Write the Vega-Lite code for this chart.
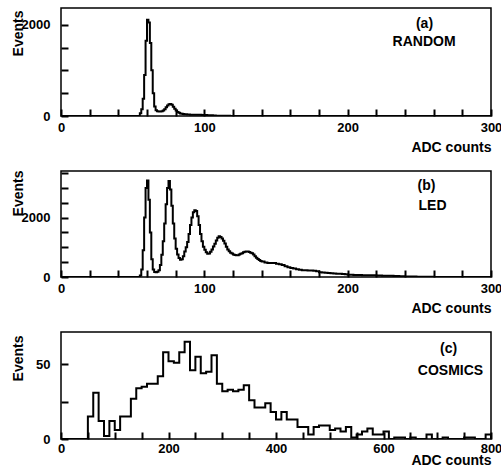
{
  "$schema": "https://vega.github.io/schema/vega-lite/v6.json",
  "padding": {"left": 10, "top": 7, "right": 0, "bottom": 0},
  "spacing": 55,
  "bounds": "flush",
  "config": {
    "view": {"stroke": "black", "strokeWidth": 1.5},
    "axis": {
      "grid": false, "domain": false, "ticks": true,
      "labelFont": "Liberation Sans", "labelFontSize": 13, "labelFontWeight": "bold", "labelColor": "black",
      "titleFont": "Liberation Sans", "titleFontSize": 14, "titleFontWeight": "bold", "titleColor": "black",
      "labelFlush": false, "labelOverlap": false, "labelBound": false
    },
    "text": {"font": "Liberation Sans", "fontSize": 14, "fontWeight": "bold", "color": "black", "baseline": "middle", "align": "center"}
  },
  "datasets": {
    "random": [
      {"x": 0, "y": 0}, {"x": 54, "y": 0}, {"x": 55, "y": 60}, {"x": 56, "y": 150}, {"x": 57, "y": 380},
      {"x": 58, "y": 900}, {"x": 59, "y": 1650}, {"x": 60, "y": 2110}, {"x": 61, "y": 2050}, {"x": 62, "y": 1600},
      {"x": 63, "y": 1000}, {"x": 64, "y": 500}, {"x": 65, "y": 210}, {"x": 66, "y": 125}, {"x": 67, "y": 105},
      {"x": 68, "y": 100}, {"x": 69, "y": 100}, {"x": 70, "y": 105}, {"x": 71, "y": 120}, {"x": 72, "y": 150},
      {"x": 73, "y": 190}, {"x": 74, "y": 230}, {"x": 75, "y": 260}, {"x": 76, "y": 265}, {"x": 77, "y": 245},
      {"x": 78, "y": 200}, {"x": 79, "y": 160}, {"x": 80, "y": 120}, {"x": 81, "y": 90}, {"x": 82, "y": 70},
      {"x": 83, "y": 55}, {"x": 84, "y": 50}, {"x": 85, "y": 45}, {"x": 86, "y": 40}, {"x": 88, "y": 35},
      {"x": 90, "y": 30}, {"x": 92, "y": 30}, {"x": 94, "y": 25}, {"x": 96, "y": 25}, {"x": 98, "y": 20},
      {"x": 100, "y": 20}, {"x": 102, "y": 15}, {"x": 104, "y": 15}, {"x": 106, "y": 10}, {"x": 108, "y": 8},
      {"x": 110, "y": 5}, {"x": 114, "y": 3}, {"x": 118, "y": 0}, {"x": 300, "y": 0}
    ],
    "led": [
      {"x": 0, "y": 0}, {"x": 54, "y": 0}, {"x": 55, "y": 50}, {"x": 56, "y": 250}, {"x": 57, "y": 900},
      {"x": 58, "y": 2000}, {"x": 59, "y": 3000}, {"x": 60, "y": 3250}, {"x": 61, "y": 2600}, {"x": 62, "y": 1500},
      {"x": 63, "y": 600}, {"x": 64, "y": 250}, {"x": 65, "y": 170}, {"x": 66, "y": 160}, {"x": 67, "y": 175},
      {"x": 68, "y": 230}, {"x": 69, "y": 400}, {"x": 70, "y": 750}, {"x": 71, "y": 1200}, {"x": 72, "y": 1800},
      {"x": 73, "y": 2450}, {"x": 74, "y": 3000}, {"x": 75, "y": 3230}, {"x": 76, "y": 2950}, {"x": 77, "y": 2400},
      {"x": 78, "y": 1800}, {"x": 79, "y": 1300}, {"x": 80, "y": 950}, {"x": 81, "y": 760}, {"x": 82, "y": 640},
      {"x": 83, "y": 580}, {"x": 84, "y": 600}, {"x": 85, "y": 700}, {"x": 86, "y": 860}, {"x": 87, "y": 1000},
      {"x": 88, "y": 1180}, {"x": 89, "y": 1450}, {"x": 90, "y": 1750}, {"x": 91, "y": 2000}, {"x": 92, "y": 2180},
      {"x": 93, "y": 2250}, {"x": 94, "y": 2220}, {"x": 95, "y": 2050}, {"x": 96, "y": 1750}, {"x": 97, "y": 1450},
      {"x": 98, "y": 1200}, {"x": 99, "y": 1020}, {"x": 100, "y": 920}, {"x": 101, "y": 830}, {"x": 102, "y": 780},
      {"x": 103, "y": 790}, {"x": 104, "y": 850}, {"x": 105, "y": 930}, {"x": 106, "y": 1030}, {"x": 107, "y": 1120},
      {"x": 108, "y": 1230}, {"x": 109, "y": 1320}, {"x": 110, "y": 1370}, {"x": 111, "y": 1350}, {"x": 112, "y": 1300},
      {"x": 113, "y": 1220}, {"x": 114, "y": 1130}, {"x": 115, "y": 1020}, {"x": 116, "y": 930}, {"x": 117, "y": 870},
      {"x": 118, "y": 820}, {"x": 119, "y": 790}, {"x": 120, "y": 760}, {"x": 121, "y": 740}, {"x": 122, "y": 730},
      {"x": 123, "y": 735}, {"x": 124, "y": 760}, {"x": 125, "y": 780}, {"x": 126, "y": 800}, {"x": 127, "y": 830},
      {"x": 128, "y": 850}, {"x": 129, "y": 860}, {"x": 130, "y": 860}, {"x": 131, "y": 840}, {"x": 132, "y": 820},
      {"x": 133, "y": 800}, {"x": 134, "y": 760}, {"x": 135, "y": 700}, {"x": 136, "y": 650}, {"x": 137, "y": 610},
      {"x": 138, "y": 570}, {"x": 139, "y": 540}, {"x": 140, "y": 520}, {"x": 142, "y": 490}, {"x": 144, "y": 470},
      {"x": 146, "y": 470}, {"x": 148, "y": 470}, {"x": 150, "y": 450}, {"x": 152, "y": 430}, {"x": 154, "y": 400},
      {"x": 156, "y": 360}, {"x": 158, "y": 330}, {"x": 160, "y": 305}, {"x": 162, "y": 285}, {"x": 164, "y": 260},
      {"x": 166, "y": 245}, {"x": 168, "y": 230}, {"x": 170, "y": 225}, {"x": 172, "y": 222}, {"x": 174, "y": 220},
      {"x": 176, "y": 210}, {"x": 178, "y": 195}, {"x": 180, "y": 160}, {"x": 182, "y": 150}, {"x": 184, "y": 140},
      {"x": 186, "y": 132}, {"x": 188, "y": 125}, {"x": 190, "y": 118}, {"x": 192, "y": 112}, {"x": 194, "y": 110},
      {"x": 196, "y": 100}, {"x": 198, "y": 90}, {"x": 200, "y": 80}, {"x": 202, "y": 75}, {"x": 204, "y": 70},
      {"x": 206, "y": 68}, {"x": 208, "y": 65}, {"x": 210, "y": 62}, {"x": 212, "y": 60}, {"x": 214, "y": 58},
      {"x": 216, "y": 56}, {"x": 218, "y": 55}, {"x": 220, "y": 50}, {"x": 224, "y": 45}, {"x": 228, "y": 38},
      {"x": 232, "y": 32}, {"x": 236, "y": 25}, {"x": 240, "y": 20}, {"x": 244, "y": 15}, {"x": 248, "y": 12},
      {"x": 252, "y": 8}, {"x": 256, "y": 5}, {"x": 260, "y": 3}, {"x": 264, "y": 0}, {"x": 300, "y": 0}
    ],
    "cosmics": [
      {"x": 0, "y": 0}, {"x": 50, "y": 15}, {"x": 60, "y": 31}, {"x": 70, "y": 12}, {"x": 80, "y": 2},
      {"x": 90, "y": 12}, {"x": 100, "y": 6}, {"x": 110, "y": 15}, {"x": 120, "y": 15}, {"x": 130, "y": 27},
      {"x": 140, "y": 34}, {"x": 150, "y": 35}, {"x": 160, "y": 37}, {"x": 170, "y": 37}, {"x": 180, "y": 42},
      {"x": 190, "y": 58}, {"x": 200, "y": 52}, {"x": 210, "y": 51}, {"x": 220, "y": 58}, {"x": 230, "y": 65},
      {"x": 240, "y": 46}, {"x": 250, "y": 55}, {"x": 260, "y": 44}, {"x": 270, "y": 45}, {"x": 280, "y": 56},
      {"x": 290, "y": 37}, {"x": 300, "y": 32}, {"x": 310, "y": 33}, {"x": 320, "y": 32}, {"x": 330, "y": 33},
      {"x": 340, "y": 36}, {"x": 350, "y": 26}, {"x": 360, "y": 21}, {"x": 370, "y": 21}, {"x": 380, "y": 24},
      {"x": 390, "y": 18}, {"x": 400, "y": 13}, {"x": 410, "y": 18}, {"x": 420, "y": 13}, {"x": 430, "y": 13},
      {"x": 440, "y": 8}, {"x": 450, "y": 8}, {"x": 460, "y": 3}, {"x": 470, "y": 8}, {"x": 480, "y": 9},
      {"x": 490, "y": 9}, {"x": 500, "y": 6}, {"x": 510, "y": 7}, {"x": 520, "y": 5}, {"x": 530, "y": 8},
      {"x": 540, "y": 1}, {"x": 550, "y": 3}, {"x": 560, "y": 5}, {"x": 570, "y": 7}, {"x": 580, "y": 3},
      {"x": 590, "y": 3}, {"x": 600, "y": 5}, {"x": 610, "y": 0}, {"x": 620, "y": 1}, {"x": 630, "y": 1},
      {"x": 640, "y": 0}, {"x": 650, "y": 1}, {"x": 660, "y": 0}, {"x": 680, "y": 3}, {"x": 690, "y": 0},
      {"x": 710, "y": 1}, {"x": 720, "y": 0}, {"x": 750, "y": 1}, {"x": 770, "y": 0}, {"x": 790, "y": 3},
      {"x": 800, "y": 0}
    ],
    "notesA": [{"x": 253.6, "y": 2025, "t": "(a)"}, {"x": 253.3, "y": 1630, "t": "RANDOM"}],
    "notesB": [{"x": 255, "y": 3070, "t": "(b)"}, {"x": 259.2, "y": 2383, "t": "LED"}],
    "notesC": [{"x": 721, "y": 60.2, "t": "(c)"}, {"x": 724.6, "y": 45.5, "t": "COSMICS"}]
  },
  "vconcat": [
    {
      "width": 430, "height": 108,
      "encoding": {
        "x": {"field": "x", "type": "quantitative", "scale": {"domain": [0, 300], "nice": false, "zero": false},
          "axis": {"values": [0,20,40,60,80,100,120,140,160,180,200,220,240,260,280,300], "format": "d",
            "tickColor": "black", "tickWidth": 2, "tickSize": -7,
            "labelExpr": "datum.value % 100 === 0 ? datum.label : ''", "labelPadding": 12,
            "title": "ADC counts", "titleX": 430, "titleY": 31, "titleAlign": "right", "titleBaseline": "middle"}},
        "y": {"field": "y", "type": "quantitative", "scale": {"domain": [0, 2366], "nice": false},
          "axis": {"values": [0,500,1000,1500,2000], "format": "d",
            "tickColor": "black", "tickWidth": 2, "tickSize": -7,
            "labelExpr": "datum.value === 0 || datum.value === 2000 ? datum.label : ''", "labelPadding": 18,
            "title": "Events", "titleX": -43, "titleY": 2, "titleAngle": -90, "titleAlign": "right", "titleBaseline": "middle"}}
      },
      "layer": [
        {"data": {"name": "random"}, "mark": {"type": "line", "interpolate": "step-after", "color": "black", "strokeWidth": 2, "clip": true}},
        {"data": {"name": "notesA"}, "mark": {"type": "text"}, "encoding": {"text": {"field": "t"}}}
      ]
    },
    {
      "width": 430, "height": 106,
      "encoding": {
        "x": {"field": "x", "type": "quantitative", "scale": {"domain": [0, 300], "nice": false, "zero": false},
          "axis": {"values": [0,20,40,60,80,100,120,140,160,180,200,220,240,260,280,300], "format": "d",
            "tickColor": "black", "tickWidth": 2, "tickSize": -7,
            "labelExpr": "datum.value % 100 === 0 ? datum.label : ''", "labelPadding": 12,
            "title": "ADC counts", "titleX": 430, "titleY": 31, "titleAlign": "right", "titleBaseline": "middle"}},
        "y": {"field": "y", "type": "quantitative", "scale": {"domain": [0, 3570], "nice": false},
          "axis": {"values": [0,500,1000,1500,2000,2500,3000,3500], "format": "d",
            "tickColor": "black", "tickWidth": 2, "tickSize": -7,
            "labelExpr": "datum.value === 0 || datum.value === 2000 ? datum.label : ''", "labelPadding": 18,
            "title": "Events", "titleX": -43, "titleY": -1, "titleAngle": -90, "titleAlign": "right", "titleBaseline": "middle"}}
      },
      "layer": [
        {"data": {"name": "led"}, "mark": {"type": "line", "interpolate": "step-after", "color": "black", "strokeWidth": 2, "clip": true}},
        {"data": {"name": "notesB"}, "mark": {"type": "text"}, "encoding": {"text": {"field": "t"}}}
      ]
    },
    {
      "width": 430, "height": 107,
      "encoding": {
        "x": {"field": "x", "type": "quantitative", "scale": {"domain": [0, 800], "nice": false, "zero": false},
          "axis": {"values": [0,50,100,150,200,250,300,350,400,450,500,550,600,650,700,750,800], "format": "d",
            "tickColor": "black", "tickWidth": 2, "tickSize": -7,
            "labelExpr": "datum.value % 200 === 0 ? datum.label : ''", "labelPadding": 10,
            "title": "ADC counts", "titleX": 430, "titleY": 21, "titleAlign": "right", "titleBaseline": "middle"}},
        "y": {"field": "y", "type": "quantitative", "scale": {"domain": [0, 71.6], "nice": false},
          "axis": {"values": [0,25,50], "format": "d",
            "tickColor": "black", "tickWidth": 2, "tickSize": -7,
            "labelExpr": "datum.value % 50 === 0 ? datum.label : ''", "labelPadding": 18,
            "title": "Events", "titleX": -43, "titleY": 3, "titleAngle": -90, "titleAlign": "right", "titleBaseline": "middle"}}
      },
      "layer": [
        {"data": {"name": "cosmics"}, "mark": {"type": "line", "interpolate": "step-after", "color": "black", "strokeWidth": 2, "clip": true}},
        {"data": {"name": "notesC"}, "mark": {"type": "text"}, "encoding": {"text": {"field": "t"}}}
      ]
    }
  ]
}
